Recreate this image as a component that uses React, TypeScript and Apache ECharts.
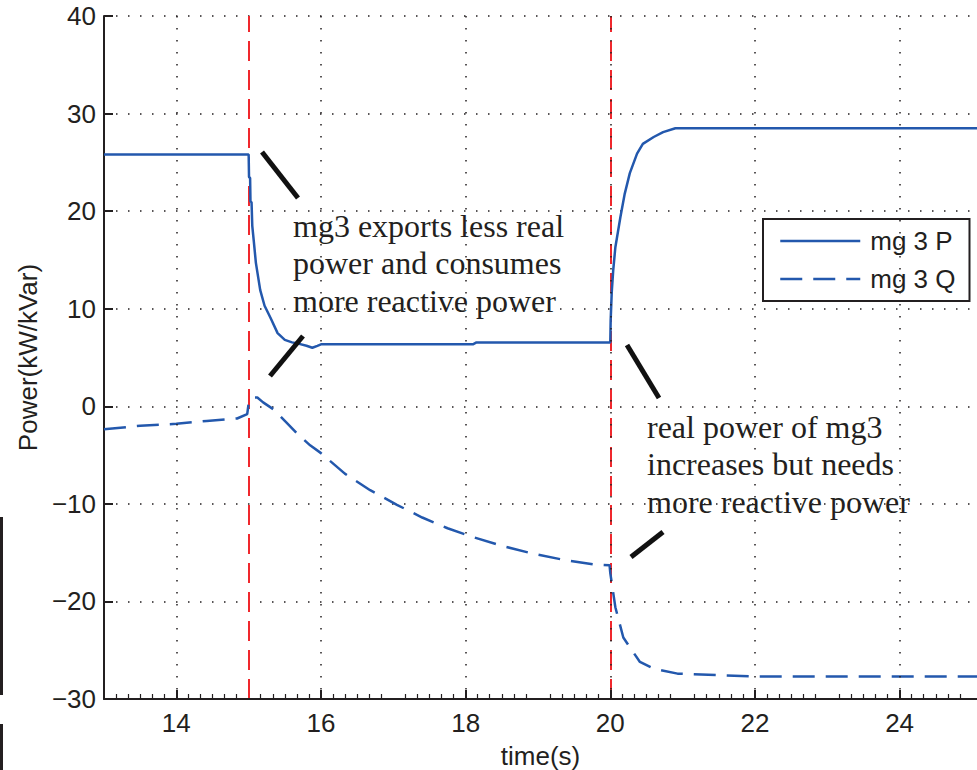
import React, { useEffect, useRef } from "react";
import * as echarts from "echarts";

// time (s) and values
const pTime = [13, 15.0, 15.005, 15.02, 15.025, 15.04, 15.05, 15.07, 15.1, 15.16, 15.22, 15.3, 15.4, 15.5, 15.6, 15.7, 15.8, 15.88, 15.95, 16.0, 18.1, 18.15, 20.0, 20.005, 20.02, 20.04, 20.07, 20.14, 20.2, 20.27, 20.37, 20.45, 20.6, 20.73, 20.9, 25.07];
const pValue = [25.8, 25.8, 23.5, 23.4, 21.0, 20.9, 18.5, 17.0, 14.7, 11.9, 10.3, 9.1, 7.5, 6.8, 6.55, 6.4, 6.2, 6.0, 6.2, 6.35, 6.35, 6.55, 6.55, 8.8, 11.7, 13.9, 16.3, 19.4, 21.8, 23.9, 25.9, 26.9, 27.6, 28.1, 28.5, 28.5];

const qTime = [13, 13.5, 14.0, 14.42, 14.84, 14.98, 15.0, 15.05, 15.12, 15.2, 15.34, 15.5, 15.67, 15.85, 16.0, 16.33, 16.68, 17.05, 17.4, 17.75, 18.1, 18.5, 18.93, 19.33, 19.76, 19.99, 20.0, 20.07, 20.18, 20.27, 20.41, 20.6, 20.93, 21.98, 25.07];
const qValue = [-2.35, -2.0, -1.8, -1.5, -1.25, -0.8, 0.3, 0.9, 0.9, 0.4, -0.3, -1.5, -2.8, -4.0, -4.8, -6.9, -8.6, -10.1, -11.4, -12.5, -13.4, -14.3, -15.1, -15.7, -16.2, -16.3, -17.1, -20.6, -23.7, -24.7, -26.2, -26.9, -27.4, -27.7, -27.7];

const seriesNames = ["mg 3 P", "mg 3 Q"];
const eventTimes = [15, 20];
const xTicks = [14, 16, 18, 20, 22, 24];
const yRange = [-30, 40];

const note1 = ["mg3 exports less real", "power and consumes", "more reactive power"];
const note2 = ["real power of mg3", "increases but needs", "more reactive power"];

const BLUE = "#2358ad";
const RED = "#f0282d";
const INK = "#231f20";
const SANS = "'Liberation Sans', Arial, sans-serif";
const SERIF = "'Liberation Serif', 'Times New Roman', serif";

export default function App() {
  const ref = useRef<HTMLDivElement>(null);

  useEffect(() => {
    if (!ref.current) return;
    const chart = echarts.init(ref.current, undefined, { renderer: "svg" });
    const grid = { color: INK, type: [1.5, 10.5], width: 1.5 };
    chart.setOption({
      animation: false,
      backgroundColor: "#ffffff",
      grid: { left: 104, right: 0, top: 16, bottom: 71, containLabel: false, outerBoundsMode: "none" },
      legend: {
        left: 763,
        top: 219,
        orient: "vertical",
        backgroundColor: "#ffffff",
        borderColor: INK,
        borderWidth: 2,
        borderRadius: 0,
        padding: [9, 14, 9, 16],
        itemGap: 12,
        itemWidth: 80,
        itemHeight: 26,
        itemStyle: { opacity: 0 },
        lineStyle: { width: 2.5 },
        textStyle: { fontSize: 26, color: INK, fontFamily: SANS, padding: [0, 0, 0, 5] },
        data: seriesNames,
      },
      xAxis: [
        {
          type: "value",
          min: 13,
          max: 25.07,
          interval: 1,
          name: "time(s)",
          nameLocation: "middle",
          nameGap: 44,
          nameTextStyle: { fontSize: 26, color: INK, fontFamily: SANS },
          axisLine: { onZero: false, lineStyle: { color: INK, width: 2 } },
          axisTick: { inside: true, length: 9, customValues: xTicks, lineStyle: { color: INK, width: 2 } },
          axisLabel: { customValues: xTicks, fontSize: 26, color: INK, fontFamily: SANS, margin: 11 },
          splitLine: { show: true, lineStyle: grid },
          minorSplitLine: { show: false },
          z: 5,
        },
        {
          type: "value",
          position: "bottom",
          offset: 0,
          min: 13,
          max: 25.07,
          interval: 1,
          axisLine: { show: false, onZero: false },
          axisTick: { show: true, inside: true, length: 0.1, lineStyle: { color: INK, width: 0.1, opacity: 0 } },
          axisLabel: { show: false },
          splitLine: { show: false },
          minorTick: { show: true, splitNumber: 6, length: 5, lineStyle: { color: INK, width: 1.2 } },
          z: 6,
        },
      ],
      yAxis: {
        type: "value",
        min: yRange[0],
        max: yRange[1],
        interval: 10,
        name: "Power(kW/kVar)",
        nameLocation: "middle",
        nameGap: 58,
        nameTextStyle: { fontSize: 26, color: INK, fontFamily: SANS },
        axisLine: { show: true, lineStyle: { color: INK, width: 2 } },
        axisTick: { show: true, inside: true, length: 9, lineStyle: { color: INK, width: 2 } },
        axisLabel: {
          fontSize: 26,
          color: INK,
          fontFamily: SANS,
          margin: 8,
          formatter: (v: number) => (v < 0 ? "\u2212" + Math.abs(v) : String(v)),
        },
        splitLine: { show: true, lineStyle: grid },
      },
      series: [
        {
          name: seriesNames[0],
          type: "line",
          data: pTime.map((t, i) => [t, pValue[i]]),
          symbol: "none",
          lineStyle: { color: BLUE, width: 2.5 },
          itemStyle: { color: BLUE },
          z: 3,
          markLine: {
            silent: true,
            symbol: ["none", "none"],
            label: { show: false },
            lineStyle: { color: RED, type: [20, 9], width: 2 },
            data: eventTimes.map((t) => ({ xAxis: t })),
            z: 2,
          },
        },
        {
          name: seriesNames[1],
          type: "line",
          data: qTime.map((t, i) => [t, qValue[i]]),
          symbol: "none",
          lineStyle: { color: BLUE, width: 2.5, type: [22, 11] },
          itemStyle: { color: BLUE },
          z: 3,
        },
      ],
      graphic: [
        { type: "rect", shape: { x: 0, y: 517, width: 3, height: 178 }, style: { fill: INK } },
        { type: "rect", shape: { x: 0, y: 724, width: 3, height: 46 }, style: { fill: INK } },
        { type: "line", shape: { x1: 262, y1: 152, x2: 298, y2: 198 }, style: { stroke: "#111", lineWidth: 5 }, z: 10 },
        { type: "line", shape: { x1: 303, y1: 336, x2: 270, y2: 376 }, style: { stroke: "#111", lineWidth: 5 }, z: 10 },
        { type: "line", shape: { x1: 627, y1: 345, x2: 659, y2: 398 }, style: { stroke: "#111", lineWidth: 5 }, z: 10 },
        { type: "line", shape: { x1: 663, y1: 532, x2: 631, y2: 557 }, style: { stroke: "#111", lineWidth: 5 }, z: 10 },
        {
          type: "text",
          left: 293,
          top: 207,
          z: 10,
          style: { text: note1.join("\n"), fontSize: 32, fontFamily: SERIF, lineHeight: 37.5, fill: INK },
        },
        {
          type: "text",
          left: 647,
          top: 408,
          z: 10,
          style: { text: note2.join("\n"), fontSize: 32, fontFamily: SERIF, lineHeight: 37.5, fill: INK },
        },
      ],
    });
    return () => chart.dispose();
  }, []);

  return <div ref={ref} style={{ position: "fixed", left: 0, top: 0, width: 977, height: 770 }} />;
}
